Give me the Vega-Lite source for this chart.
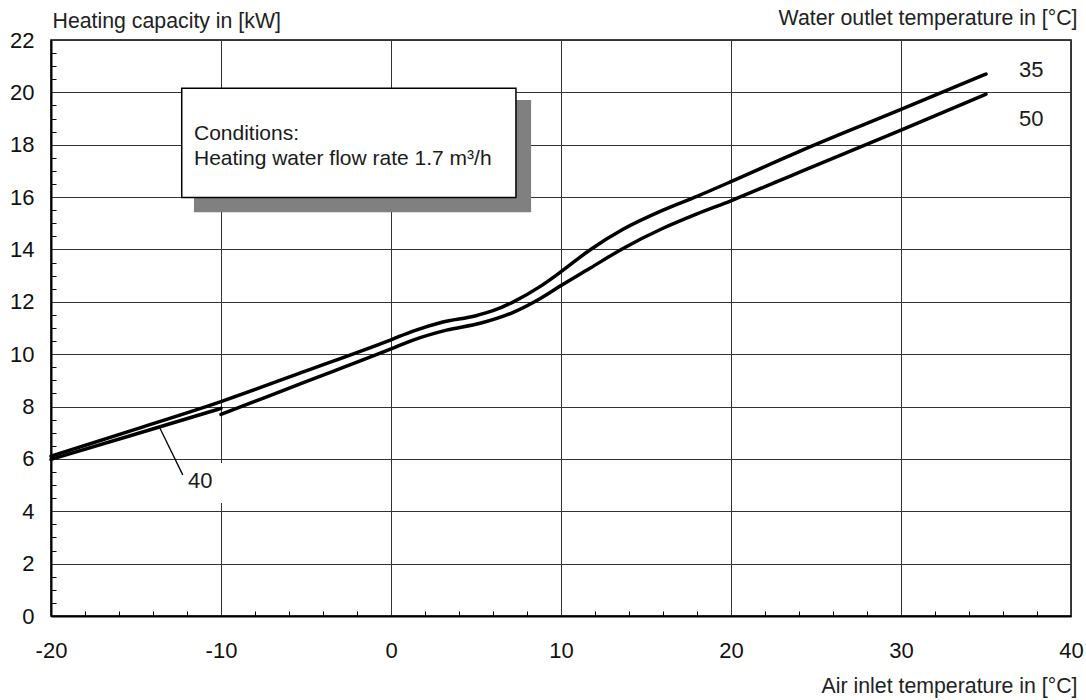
{
  "$schema": "https://vega.github.io/schema/vega-lite/v6.json",
  "width": 1020,
  "height": 576,
  "autosize": {"type": "none"},
  "padding": {"left": 51, "top": 40, "right": 15, "bottom": 84},
  "background": "white",
  "config": {
    "view": {"stroke": "black", "strokeWidth": 1.5},
    "font": "Liberation Sans",
    "text": {"font": "Liberation Sans", "color": "#1a1a1a"},
    "axis": {"labelFont": "Liberation Sans", "titleFont": "Liberation Sans", "titleFontWeight": "normal", "labelColor": "#111", "titleColor": "#222"}
  },
  "datasets": {
    "curves": [
      {"series": "35", "air": -20, "cap": 6.1},
      {"series": "35", "air": -15, "cap": 7.14},
      {"series": "35", "air": -10, "cap": 8.19},
      {"series": "35", "air": -5, "cap": 9.36},
      {"series": "35", "air": 0, "cap": 10.55},
      {"series": "35", "air": 1.3, "cap": 10.88},
      {"series": "35", "air": 3, "cap": 11.22},
      {"series": "35", "air": 5, "cap": 11.47},
      {"series": "35", "air": 6, "cap": 11.66},
      {"series": "35", "air": 7.2, "cap": 12.0},
      {"series": "35", "air": 8.76, "cap": 12.58},
      {"series": "35", "air": 10, "cap": 13.15},
      {"series": "35", "air": 11.7, "cap": 13.98},
      {"series": "35", "air": 13.65, "cap": 14.77},
      {"series": "35", "air": 16, "cap": 15.5},
      {"series": "35", "air": 18, "cap": 16.03},
      {"series": "35", "air": 20, "cap": 16.59},
      {"series": "35", "air": 22.88, "cap": 17.42},
      {"series": "35", "air": 24, "cap": 17.74},
      {"series": "35", "air": 30, "cap": 19.35},
      {"series": "35", "air": 35, "cap": 20.7},
      {"series": "40", "air": -20, "cap": 5.98},
      {"series": "40", "air": -15, "cap": 6.95},
      {"series": "40", "air": -10, "cap": 7.93},
      {"series": "50", "air": -10, "cap": 7.7},
      {"series": "50", "air": -5, "cap": 8.95},
      {"series": "50", "air": 0, "cap": 10.2},
      {"series": "50", "air": 1.3, "cap": 10.54},
      {"series": "50", "air": 3.27, "cap": 10.92},
      {"series": "50", "air": 5.24, "cap": 11.18},
      {"series": "50", "air": 7.19, "cap": 11.6},
      {"series": "50", "air": 8.76, "cap": 12.12},
      {"series": "50", "air": 10, "cap": 12.62},
      {"series": "50", "air": 11.7, "cap": 13.28},
      {"series": "50", "air": 13.65, "cap": 14.04},
      {"series": "50", "air": 16, "cap": 14.81},
      {"series": "50", "air": 18, "cap": 15.36},
      {"series": "50", "air": 20, "cap": 15.86},
      {"series": "50", "air": 22.88, "cap": 16.64},
      {"series": "50", "air": 24, "cap": 16.94},
      {"series": "50", "air": 30, "cap": 18.56},
      {"series": "50", "air": 35, "cap": 19.93}
    ],
    "shadow": [{"x1": -11.59, "x2": 8.24, "y1": 19.71, "y2": 15.42}],
    "box": [{"x1": -12.31, "x2": 7.35, "y1": 20.16, "y2": 15.98}],
    "leader": [{"x1": -13.59, "y1": 7.17, "x2": -12.25, "y2": 5.39}],
    "labelbg": [{"x1": -12.2, "x2": -9.9, "y1": 4.32, "y2": 5.84}],
    "serieslabels": [
      {"label": "35", "x": 36.94, "y": 20.59},
      {"label": "50", "x": 36.94, "y": 18.72},
      {"label": "40", "x": -11.94, "y": 4.89}
    ],
    "boxtext": [
      {"label": "Conditions:", "x": -11.59, "y": 18.18},
      {"label": "Heating water flow rate 1.7 m³/h", "x": -11.59, "y": 17.23}
    ]
  },
  "resolve": {"axis": {"x": "independent", "y": "independent"}},
  "layer": [
    {
      "data": {"name": "shadow"},
      "mark": {"type": "rect", "fill": "#808080"},
      "encoding": {
        "x": {"field": "x1", "type": "quantitative", "scale": {"domain": [-20, 40], "nice": false, "zero": false},
          "axis": {"values": [-18, -16, -14, -12, -8, -6, -4, -2, 2, 4, 6, 8, 12, 14, 16, 18, 22, 24, 26, 28, 32, 34, 36, 38], "labels": false, "grid": false, "domain": false, "ticks": true, "tickSize": -5, "tickColor": "black", "tickWidth": 1, "title": null}},
        "x2": {"field": "x2"},
        "y": {"field": "y1", "type": "quantitative", "scale": {"domain": [0, 22], "nice": false, "zero": false},
          "axis": {"values": [0.5, 1, 1.5, 2.5, 3, 3.5, 4.5, 5, 5.5, 6.5, 7, 7.5, 8.5, 9, 9.5, 10.5, 11, 11.5, 12.5, 13, 13.5, 14.5, 15, 15.5, 16.5, 17, 17.5, 18.5, 19, 19.5, 20.5, 21, 21.5], "labels": false, "grid": false, "domain": false, "ticks": true, "tickSize": -5, "tickColor": "black", "tickWidth": 1, "title": null}},
        "y2": {"field": "y2"}
      }
    },
    {
      "data": {"name": "box"},
      "mark": {"type": "rect", "fill": "white", "stroke": "black", "strokeWidth": 1.5},
      "encoding": {
        "x": {"field": "x1", "type": "quantitative", "axis": null},
        "x2": {"field": "x2"},
        "y": {"field": "y1", "type": "quantitative", "axis": null},
        "y2": {"field": "y2"}
      }
    },
    {
      "data": {"name": "curves"},
      "mark": {"type": "line", "color": "black", "strokeWidth": 3.5, "interpolate": "monotone", "strokeCap": "round"},
      "encoding": {
        "x": {"field": "air", "type": "quantitative",
          "axis": {"orient": "bottom", "values": [-20, -10, 0, 10, 20, 30, 40], "labelExpr": "'' + datum.value", "grid": true, "gridColor": "#333", "gridWidth": 1, "ticks": false, "tickSize": 0, "labelPadding": 41, "labelBaseline": "alphabetic", "labelFontSize": 22, "labelFlush": false, "domain": true, "domainColor": "black", "domainWidth": 2,
            "title": "Air inlet temperature in [°C]", "titleFontSize": 21.3, "titleX": 1026, "titleY": 76, "titleAlign": "right", "titleBaseline": "alphabetic", "titleAngle": 0}},
        "y": {"field": "cap", "type": "quantitative",
          "axis": {"orient": "left", "values": [0, 2, 4, 6, 8, 10, 12, 14, 16, 18, 20, 22], "grid": true, "gridColor": "#333", "gridWidth": 1, "ticks": false, "tickSize": 0, "labelPadding": 17, "labelFontSize": 22, "labelFlush": false, "domain": true, "domainColor": "black", "domainWidth": 2,
            "title": "Heating capacity in [kW]", "titleFontSize": 21.3, "titleX": 1, "titleY": -13, "titleAlign": "left", "titleBaseline": "alphabetic", "titleAngle": 0}},
        "detail": {"field": "series", "type": "nominal"}
      }
    },
    {
      "data": {"name": "labelbg"},
      "mark": {"type": "rect", "fill": "white"},
      "encoding": {
        "x": {"field": "x1", "type": "quantitative", "axis": null},
        "x2": {"field": "x2"},
        "y": {"field": "y1", "type": "quantitative", "axis": null},
        "y2": {"field": "y2"}
      }
    },
    {
      "data": {"name": "leader"},
      "mark": {"type": "rule", "color": "black", "strokeWidth": 1.3},
      "encoding": {
        "x": {"field": "x1", "type": "quantitative", "axis": null},
        "y": {"field": "y1", "type": "quantitative", "axis": null},
        "x2": {"field": "x2"},
        "y2": {"field": "y2"}
      }
    },
    {
      "data": {"name": "boxtext"},
      "mark": {"type": "text", "align": "left", "baseline": "alphabetic", "fontSize": 21},
      "encoding": {
        "x": {"field": "x", "type": "quantitative", "axis": null},
        "y": {"field": "y", "type": "quantitative", "axis": null},
        "text": {"field": "label"}
      }
    },
    {
      "data": {"name": "serieslabels"},
      "mark": {"type": "text", "align": "left", "baseline": "alphabetic", "fontSize": 22},
      "encoding": {
        "x": {"field": "x", "type": "quantitative",
          "axis": {"orient": "top", "labels": false, "ticks": false, "domain": false, "grid": false,
            "title": "Water outlet temperature in [°C]", "titleFontSize": 21.3, "titleX": 1026, "titleY": -16, "titleAlign": "right", "titleBaseline": "alphabetic", "titleAngle": 0}},
        "y": {"field": "y", "type": "quantitative", "axis": null},
        "text": {"field": "label"}
      }
    }
  ]
}
